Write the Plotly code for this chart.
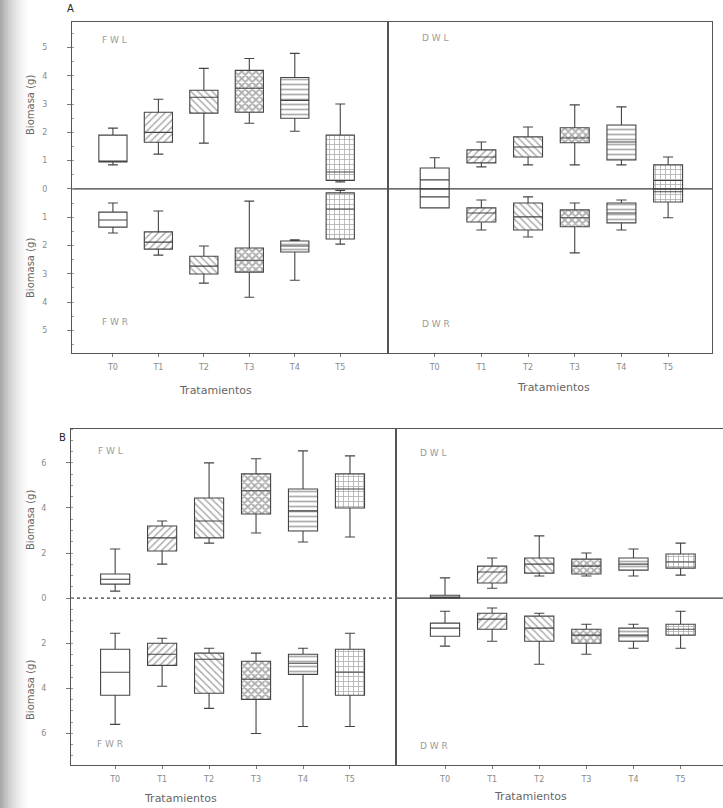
import plotly.graph_objects as go

# ---------------- data ----------------
treatments = ["T0", "T1", "T2", "T3", "T4", "T5"]
positions = [0, 1, 2, 3, 4, 5]
patterns = ["", "/", "\\", "x", "-", "+"]
pattern_solidity = [0.2, 0.3, 0.3, 0.6, 0.35, 0.3]

# Panel A - fresh weight leaves (FWL) / roots (FWR)
A_FWL_min = [0.85, 1.23, 1.62, 2.32, 2.04, 0.25]
A_FWL_q1 = [0.95, 1.65, 2.68, 2.71, 2.50, 0.30]
A_FWL_med = [0.98, 2.00, 3.24, 3.56, 3.13, 0.60]
A_FWL_q3 = [1.90, 2.71, 3.49, 4.19, 3.94, 1.90]
A_FWL_max = [2.15, 3.17, 4.26, 4.61, 4.79, 3.00]

A_FWR_min = [-1.56, -2.34, -3.33, -3.83, -3.23, -1.95]
A_FWR_q1 = [-1.35, -2.13, -3.01, -2.94, -2.23, -1.77]
A_FWR_med = [-1.10, -1.88, -2.73, -2.52, -2.02, -0.71]
A_FWR_q3 = [-0.82, -1.52, -2.38, -2.09, -1.84, -0.14]
A_FWR_max = [-0.50, -0.78, -2.02, -0.43, -1.80, -0.05]

# Panel A - dry weight leaves (DWL) / roots (DWR)
A_DWL_min = [0.00, 0.78, 0.85, 0.85, 0.85, 0.00]
A_DWL_q1 = [0.00, 0.92, 1.13, 1.63, 1.02, 0.00]
A_DWL_med = [0.32, 1.13, 1.48, 1.80, 1.66, 0.30]
A_DWL_q3 = [0.74, 1.38, 1.84, 2.16, 2.26, 0.85]
A_DWL_max = [1.10, 1.66, 2.19, 2.97, 2.90, 1.13]

A_DWR_min = [-0.67, -1.45, -1.70, -2.26, -1.45, -1.02]
A_DWR_q1 = [-0.67, -1.17, -1.45, -1.34, -1.20, -0.46]
A_DWR_med = [-0.28, -0.85, -0.99, -1.02, -0.85, -0.10]
A_DWR_q3 = [0.00, -0.67, -0.50, -0.74, -0.50, 0.00]
A_DWR_max = [0.00, -0.39, -0.28, -0.50, -0.39, 0.00]

# Panel B
B_FWL_min = [0.31, 1.51, 2.44, 2.89, 2.49, 2.71]
B_FWL_q1 = [0.62, 2.09, 2.67, 3.73, 2.98, 4.00]
B_FWL_med = [0.84, 2.67, 3.42, 4.76, 3.87, 4.84]
B_FWL_q3 = [1.07, 3.20, 4.44, 5.51, 4.84, 5.51]
B_FWL_max = [2.18, 3.42, 6.00, 6.18, 6.53, 6.31]

B_FWR_min = [-5.60, -3.91, -4.89, -6.00, -5.69, -5.69]
B_FWR_q1 = [-4.31, -2.98, -4.22, -4.49, -3.38, -4.31]
B_FWR_med = [-3.29, -2.49, -2.71, -3.60, -2.89, -3.29]
B_FWR_q3 = [-2.27, -2.00, -2.44, -2.80, -2.49, -2.27]
B_FWR_max = [-1.56, -1.78, -2.22, -2.44, -2.22, -1.56]

B_DWL_min = [0.00, 0.44, 0.98, 0.98, 0.98, 1.02]
B_DWL_q1 = [0.00, 0.67, 1.11, 1.07, 1.24, 1.33]
B_DWL_med = [0.05, 1.16, 1.51, 1.42, 1.51, 1.60]
B_DWL_q3 = [0.13, 1.42, 1.78, 1.73, 1.78, 1.96]
B_DWL_max = [0.90, 1.78, 2.76, 2.00, 2.18, 2.44]

B_DWR_min = [-2.13, -1.91, -2.93, -2.49, -2.22, -2.22]
B_DWR_q1 = [-1.69, -1.38, -1.91, -2.00, -1.91, -1.64]
B_DWR_med = [-1.33, -0.93, -1.33, -1.64, -1.64, -1.38]
B_DWR_q3 = [-1.11, -0.67, -0.80, -1.38, -1.33, -1.16]
B_DWR_max = [-0.58, -0.44, -0.67, -1.16, -1.16, -0.58]

A_yticks = [-5, -4, -3, -2, -1, 0, 1, 2, 3, 4, 5]
B_yticks = [-6, -4, -2, 0, 2, 4, 6]

# ---------------- figure ----------------
W, H = 723, 808
def px(x):
    return x / W
def py(y):
    return 1 - y / H

BOXW = 0.62
LINE = "#444444"
fig = go.Figure()

def add_group(xa, ya, mn, q1, med, q3, mx):
    fig.add_trace(go.Bar(
        x=positions, y=[b - a for a, b in zip(q1, q3)], base=q1, width=BOXW,
        marker=dict(color="white", line=dict(width=0),
                    pattern=dict(shape=patterns, fgcolor="#5e5e5e", bgcolor="white",
                                 size=5, solidity=pattern_solidity)),
        xaxis=xa, yaxis=ya, hoverinfo="skip", showlegend=False))
    fig.add_trace(go.Box(
        x=positions, q1=q1, median=med, q3=q3, lowerfence=mn, upperfence=mx,
        width=BOXW, whiskerwidth=0.35, fillcolor="rgba(0,0,0,0)",
        line=dict(color=LINE, width=1.1), boxpoints=False,
        xaxis=xa, yaxis=ya, showlegend=False))

add_group("x", "y", A_FWL_min, A_FWL_q1, A_FWL_med, A_FWL_q3, A_FWL_max)
add_group("x", "y", A_FWR_min, A_FWR_q1, A_FWR_med, A_FWR_q3, A_FWR_max)
add_group("x2", "y2", A_DWL_min, A_DWL_q1, A_DWL_med, A_DWL_q3, A_DWL_max)
add_group("x2", "y2", A_DWR_min, A_DWR_q1, A_DWR_med, A_DWR_q3, A_DWR_max)
add_group("x3", "y3", B_FWL_min, B_FWL_q1, B_FWL_med, B_FWL_q3, B_FWL_max)
add_group("x3", "y3", B_FWR_min, B_FWR_q1, B_FWR_med, B_FWR_q3, B_FWR_max)
add_group("x4", "y4", B_DWL_min, B_DWL_q1, B_DWL_med, B_DWL_q3, B_DWL_max)
add_group("x4", "y4", B_DWR_min, B_DWR_q1, B_DWR_med, B_DWR_q3, B_DWR_max)

FONT = "DejaVu Sans"
xcommon = dict(tickmode="array", tickvals=positions, ticktext=treatments,
               tickfont=dict(size=8, color="#8a8a8a", family=FONT),
               showline=True, mirror=True, linecolor="#555", linewidth=1,
               ticks="outside", ticklen=3, tickcolor="#777",
               ticklabelstandoff=3, showgrid=False, zeroline=False,
               fixedrange=True, automargin=False)

def ycommon(ticks, rng, labels=True, dminor=0.5):
    d = dict(range=rng, tickmode="array", tickvals=ticks,
             ticktext=[str(abs(t)) for t in ticks],
             showticklabels=labels,
             tickfont=dict(size=8, color="#8a8a8a", family=FONT),
             showline=True, mirror=True, linecolor="#555", linewidth=1,
             ticks="outside" if labels else "", ticklen=4, tickcolor="#777",
             ticklabelstandoff=18,
             showgrid=False, zeroline=False, fixedrange=True, automargin=False)
    if labels:
        d["minor"] = dict(ticks="inside", ticklen=2, tickcolor="#999", dtick=dminor)
    return d

A_top, A_bot = 22, 353
B_top, B_bot = 429, 765
A_rng = [-5.8, 5.9]
B_rng = [-7.4, 7.5]

fig.update_layout(
    width=W, height=H, margin=dict(l=0, r=0, t=0, b=0, autoexpand=False),
    paper_bgcolor="white", plot_bgcolor="white", barmode="overlay",
    boxmode="overlay", showlegend=False, font=dict(family=FONT),
    xaxis=dict(domain=[px(72), px(388)], range=[-0.9, 6.05], anchor="y", **xcommon),
    xaxis2=dict(domain=[px(388), px(712)], range=[-1.0, 5.94], anchor="y2", **xcommon),
    xaxis3=dict(domain=[px(71), px(396)], range=[-0.94, 5.98], anchor="y3", **xcommon),
    xaxis4=dict(domain=[px(396), 1.0], range=[-1.04, 5.9], anchor="y4", **xcommon),
    yaxis=dict(domain=[py(A_bot), py(A_top)], anchor="x", **ycommon(A_yticks, A_rng)),
    yaxis2=dict(domain=[py(A_bot), py(A_top)], anchor="x2", **ycommon(A_yticks, A_rng, False)),
    yaxis3=dict(domain=[py(B_bot), py(B_top)], anchor="x3", **ycommon(B_yticks, B_rng, True, 0.5)),
    yaxis4=dict(domain=[py(B_bot), py(B_top)], anchor="x4", **ycommon(B_yticks, B_rng, False)),
)

shapes = [
    dict(type="line", xref="paper", yref="y", x0=px(72), x1=px(388), y0=0, y1=0,
         line=dict(color="#3a3a3a", width=1.2), layer="below"),
    dict(type="line", xref="paper", yref="y2", x0=px(388), x1=px(712), y0=0, y1=0,
         line=dict(color="#3a3a3a", width=1.2), layer="below"),
    dict(type="line", xref="paper", yref="y3", x0=px(71), x1=px(396), y0=0, y1=0,
         line=dict(color="#3a3a3a", width=1.2, dash="dot"), layer="below"),
    dict(type="line", xref="paper", yref="y4", x0=px(396), x1=1.0, y0=0, y1=0,
         line=dict(color="#3a3a3a", width=1.2), layer="below"),
]
# scan shadow on the left edge (smooth grey fade)
shade = [170, 180, 190, 198, 206, 213, 220, 226, 232, 237, 242, 246, 249, 252]
for i, g in enumerate(shade):
    shapes.append(dict(type="rect", xref="paper", yref="paper",
                       x0=px(i * 2), x1=px(i * 2 + 2), y0=0, y1=1,
                       fillcolor=f"rgb({g},{g},{g})", line=dict(width=0), layer="below"))
fig.update_layout(shapes=shapes)

ann = []
def label(x, y, text, size=9, color="#9a9a9a", angle=0, xanchor="left"):
    ann.append(dict(x=px(x), y=py(y), xref="paper", yref="paper", text=text,
                    showarrow=False, xanchor=xanchor, yanchor="middle", textangle=angle,
                    font=dict(size=size, color=color, family=FONT)))

label(65, 8, "A", size=10, color="#222")
label(57, 437, "B", size=10, color="#222")
label(100, 40, "F W L")
label(420, 38, "D W L")
label(100, 322, "F W R")
label(420, 324, "D W R")
label(96, 451, "F W L")
label(418, 453, "D W L")
label(95, 744, "F W R")
label(418, 746, "D W R")

for yy in [105, 268, 520, 690]:
    label(30, yy, "Biomasa (g)", size=10, color="#666", angle=-90, xanchor="center")

label(215, 390, "Tratamientos", size=11, color="#666", xanchor="center")
label(553, 387, "Tratamientos", size=11, color="#666", xanchor="center")
label(180, 798, "Tratamientos", size=11, color="#666", xanchor="center")
label(530, 796, "Tratamientos", size=11, color="#666", xanchor="center")

fig.update_layout(annotations=ann)
fig.write_html(
    "out.html",
    config={"displayModeBar": False},
    post_script="document.body.style.margin='0';document.body.style.overflow='hidden';",
)
